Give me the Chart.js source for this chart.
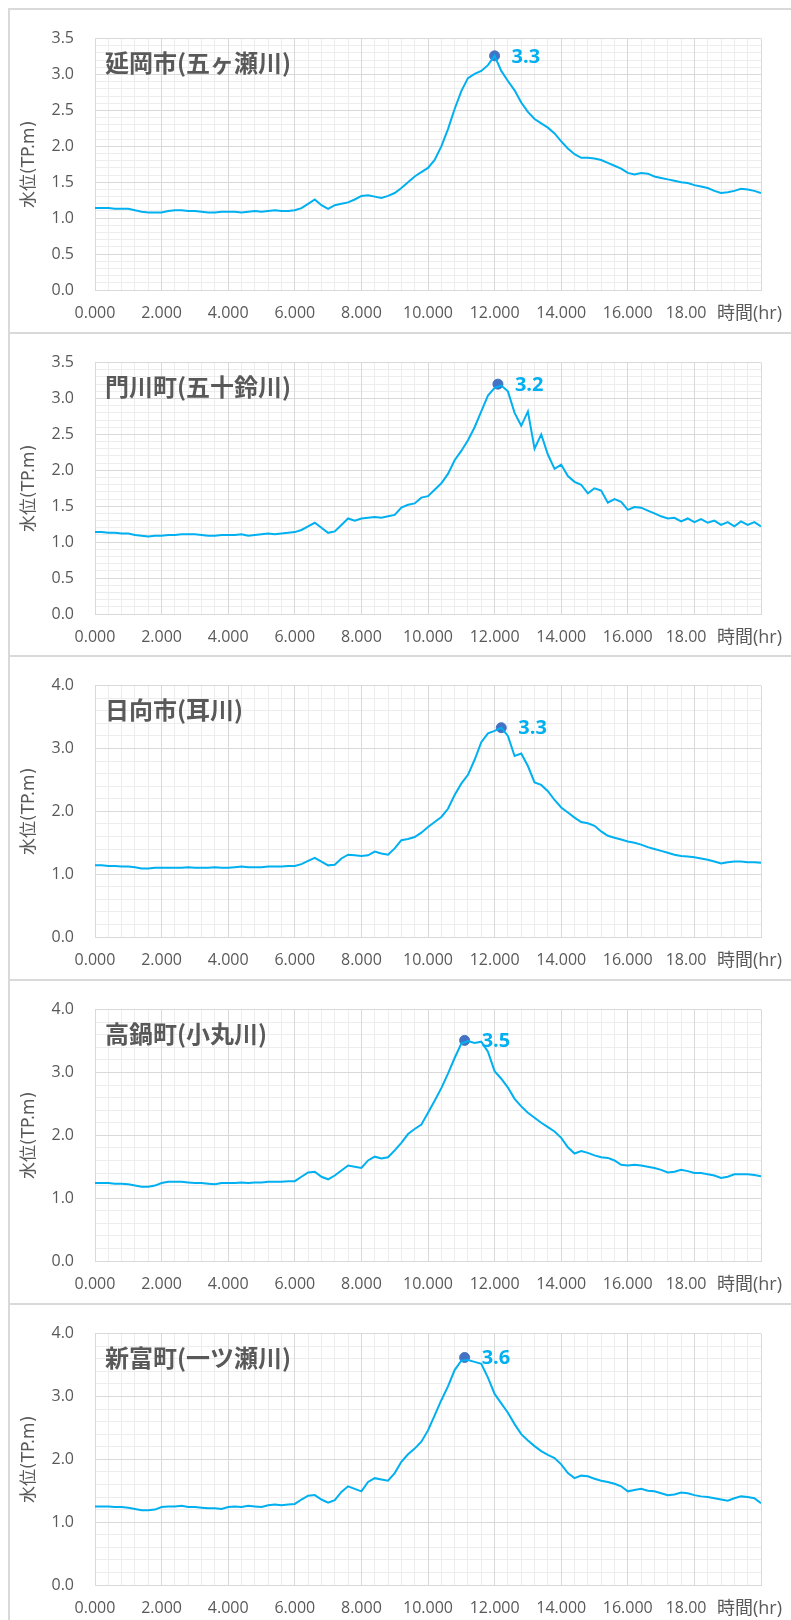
<!DOCTYPE html>
<html>
<head>
<meta charset="utf-8">
<script src="https://cdn.jsdelivr.net/npm/chart.js@4.4.1/dist/chart.umd.min.js"></script>
<style>
  body { margin: 0; background: #fff; width: 791px; height: 1620px; overflow: hidden; position: relative; }
  .panel { position: absolute; left: 8px; width: 800px; height: 324px; border-top: 2px solid #d9d9d9; border-left: 2px solid #d9d9d9; box-sizing: border-box; }
  canvas { position: absolute; left: 0; }
</style>
</head>
<body>
<script>
// time axis (hr)
const hours = [0,0.2,0.4,0.6,0.8,1,1.2,1.4,1.6,1.8,2,2.2,2.4,2.6,2.8,3,3.2,3.4,3.6,3.8,
  4,4.2,4.4,4.6,4.8,5,5.2,5.4,5.6,5.8,6,6.2,6.4,6.6,6.8,7,7.2,7.4,7.6,7.8,
  8,8.2,8.4,8.6,8.8,9,9.2,9.4,9.6,9.8,10,10.2,10.4,10.6,10.8,11,11.2,11.4,11.6,11.8,
  12,12.2,12.4,12.6,12.8,13,13.2,13.4,13.6,13.8,14,14.2,14.4,14.6,14.8,15,15.2,15.4,15.6,15.8,
  16,16.2,16.4,16.6,16.8,17,17.2,17.4,17.6,17.8,18,18.2,18.4,18.6,18.8,19,19.2,19.4,19.6,19.8,20];

// water level (TP.m)
const nobeoka = [1.14,1.14,1.14,1.13,1.13,1.13,1.11,1.09,1.08,1.08,
  1.08,1.10,1.11,1.11,1.10,1.10,1.09,1.08,1.08,1.09,
  1.09,1.09,1.08,1.09,1.10,1.09,1.10,1.11,1.10,1.10,
  1.11,1.14,1.20,1.26,1.18,1.13,1.18,1.20,1.22,1.26,
  1.31,1.32,1.30,1.28,1.31,1.35,1.42,1.50,1.58,1.64,
  1.70,1.81,2.00,2.24,2.52,2.77,2.95,3.01,3.05,3.13,
  3.26,3.05,2.91,2.78,2.61,2.48,2.38,2.32,2.26,2.18,
  2.07,1.97,1.89,1.84,1.84,1.83,1.81,1.77,1.73,1.69,
  1.63,1.61,1.63,1.62,1.58,1.56,1.54,1.52,1.50,1.49,
  1.46,1.44,1.42,1.38,1.35,1.36,1.38,1.41,1.40,1.38,1.35];

const kadogawa = [1.14,1.14,1.13,1.13,1.12,1.12,1.10,1.09,1.08,1.09,
  1.09,1.10,1.10,1.11,1.11,1.11,1.10,1.09,1.09,1.10,
  1.10,1.10,1.11,1.09,1.10,1.11,1.12,1.11,1.12,1.13,
  1.14,1.17,1.22,1.27,1.20,1.13,1.15,1.24,1.33,1.30,
  1.33,1.34,1.35,1.34,1.36,1.38,1.48,1.52,1.54,1.62,
  1.64,1.73,1.82,1.95,2.14,2.27,2.42,2.60,2.82,3.04,
  3.15,3.18,3.10,2.80,2.62,2.82,2.30,2.50,2.22,2.02,
  2.08,1.92,1.84,1.80,1.68,1.75,1.72,1.55,1.60,1.56,
  1.45,1.49,1.48,1.44,1.40,1.36,1.33,1.34,1.29,1.33,
  1.28,1.32,1.27,1.30,1.24,1.28,1.22,1.29,1.24,1.28,1.22];

const hyuga = [1.14,1.14,1.13,1.13,1.12,1.12,1.11,1.09,1.09,1.10,
  1.10,1.10,1.10,1.10,1.11,1.10,1.10,1.10,1.11,1.10,
  1.10,1.11,1.12,1.11,1.11,1.11,1.12,1.12,1.12,1.13,
  1.13,1.16,1.21,1.26,1.20,1.14,1.15,1.25,1.31,1.30,
  1.29,1.30,1.36,1.33,1.31,1.41,1.54,1.56,1.59,1.66,
  1.75,1.83,1.91,2.04,2.26,2.44,2.58,2.82,3.10,3.24,
  3.28,3.33,3.20,2.88,2.92,2.72,2.46,2.42,2.32,2.18,
  2.06,1.98,1.90,1.83,1.81,1.77,1.68,1.61,1.58,1.55,
  1.52,1.50,1.47,1.43,1.40,1.37,1.34,1.31,1.29,1.28,
  1.27,1.25,1.23,1.20,1.17,1.19,1.20,1.20,1.19,1.19,1.18];

const takanabe = [1.24,1.24,1.24,1.23,1.23,1.22,1.20,1.18,1.18,1.20,
  1.24,1.26,1.26,1.26,1.25,1.24,1.24,1.23,1.22,1.24,
  1.24,1.24,1.25,1.24,1.25,1.25,1.26,1.26,1.26,1.27,
  1.27,1.34,1.41,1.42,1.34,1.30,1.36,1.44,1.52,1.50,
  1.48,1.60,1.66,1.63,1.65,1.76,1.88,2.02,2.10,2.17,
  2.36,2.55,2.75,2.98,3.23,3.46,3.50,3.47,3.49,3.33,
  3.02,2.90,2.76,2.58,2.46,2.36,2.28,2.20,2.13,2.06,
  1.96,1.81,1.71,1.75,1.72,1.68,1.65,1.64,1.60,1.53,
  1.52,1.53,1.52,1.50,1.48,1.45,1.41,1.42,1.45,1.43,
  1.40,1.40,1.38,1.36,1.32,1.34,1.38,1.38,1.38,1.37,1.35];

const shintomi = [1.25,1.25,1.25,1.24,1.24,1.23,1.21,1.19,1.19,1.20,
  1.24,1.25,1.25,1.26,1.24,1.24,1.23,1.22,1.22,1.21,
  1.24,1.25,1.24,1.26,1.25,1.24,1.27,1.28,1.27,1.28,
  1.29,1.36,1.42,1.43,1.36,1.31,1.35,1.48,1.57,1.53,
  1.49,1.64,1.70,1.68,1.66,1.78,1.96,2.08,2.17,2.28,
  2.46,2.70,2.94,3.16,3.42,3.57,3.58,3.55,3.52,3.30,
  3.04,2.89,2.74,2.56,2.40,2.30,2.21,2.13,2.07,2.02,
  1.92,1.78,1.70,1.74,1.73,1.69,1.66,1.64,1.61,1.57,
  1.49,1.51,1.53,1.50,1.49,1.46,1.43,1.44,1.47,1.46,
  1.43,1.41,1.40,1.38,1.36,1.34,1.38,1.41,1.40,1.38,1.30];

const stations = ['延岡市(五ヶ瀬川)', '門川町(五十鈴川)', '日向市(耳川)', '高鍋町(小丸川)', '新富町(一ツ瀬川)'];
const levels = [nobeoka, kadogawa, hyuga, takanabe, shintomi];
const peakTimes = [12.0, 12.1, 12.2, 11.1, 11.1];
const peakLevels = [3.26, 3.20, 3.33, 3.51, 3.62];
const peakLabels = ['3.3', '3.2', '3.3', '3.5', '3.6'];
const yMaxes = [3.5, 3.5, 4, 4, 4];
const yMajorSteps = [0.5, 0.5, 1, 1, 1];
const yMinorSteps = [0.1, 0.1, 0.2, 0.2, 0.2];

const FONT = '"Open Sans", "Noto Sans CJK JP", sans-serif';
const TEXT = '#595959';
const LINE = '#00B0F0';

const panelDecor = {
  id: 'panelDecor',
  afterDraw(chart, args, opts) {
    const {ctx, chartArea} = chart;
    ctx.save();
    // station title inside the plot
    ctx.fillStyle = TEXT;
    ctx.font = 'bold 24px "Noto Sans CJK JP", sans-serif';
    ctx.textAlign = 'left';
    ctx.textBaseline = 'middle';
    ctx.fillText(opts.title, chartArea.left + 10, chartArea.top + 24);
    // x axis title at the right end
    ctx.font = '18px ' + FONT;
    ctx.fillText('時間(hr)', 717, chartArea.bottom + 24);
    // peak label
    const pt = chart.getDatasetMeta(1).data[0];
    ctx.fillStyle = LINE;
    ctx.font = 'bold 20px ' + FONT;
    ctx.fillText(opts.peak, pt.x + 17, pt.y + 1);
    ctx.restore();
  }
};

const near = (v, step) => Math.abs(v / step - Math.round(v / step)) < 1e-6;

levels.forEach((vals, i) => {
  const top = Math.round(8 + 323.7 * i);
  const panel = document.createElement('div');
  panel.className = 'panel';
  panel.style.top = top + 'px';
  document.body.appendChild(panel);

  const canvas = document.createElement('canvas');
  canvas.width = 791;
  canvas.height = 324;
  canvas.style.top = top + 'px';
  document.body.appendChild(canvas);

  new Chart(canvas, {
    type: 'line',
    data: {
      datasets: [{
        data: hours.map((h, k) => ({x: h, y: vals[k]})),
        borderColor: LINE,
        borderWidth: 2,
        pointRadius: 0,
        tension: 0
      }, {
        data: [{x: peakTimes[i], y: peakLevels[i]}],
        showLine: false,
        pointRadius: 5,
        pointBackgroundColor: '#4472C4',
        pointBorderColor: '#4472C4'
      }]
    },
    options: {
      responsive: false,
      animation: false,
      devicePixelRatio: 1,
      events: [],
      layout: {padding: {top: 23, right: 30, left: 0, bottom: 0}},
      plugins: {
        legend: {display: false},
        tooltip: {enabled: false},
        panelDecor: {title: stations[i], peak: peakLabels[i]}
      },
      scales: {
        xMinor: {
          type: 'linear', position: 'bottom', min: 0, max: 20,
          ticks: {display: false, stepSize: 0.4},
          grid: {color: '#ededed', drawTicks: false, z: -2},
          border: {display: false},
          afterFit: s => { s.height = 0; }
        },
        x: {
          type: 'linear', position: 'bottom', min: 0, max: 20,
          ticks: {
            stepSize: 2, autoSkip: false, maxRotation: 0, padding: 14,
            color: TEXT, font: {family: FONT, size: 16},
            // Excel cuts the last label short, so it sits a bit left
            callback: v => v === 20 ? '' : (v === 18 ? '18.00    ' : v.toFixed(3))
          },
          grid: {color: '#d9d9d9', drawTicks: false, z: -1},
          border: {color: '#d9d9d9'},
          afterFit: s => { s.height = 42; }
        },
        yMinor: {
          type: 'linear', position: 'left', min: 0, max: yMaxes[i],
          ticks: {display: false, stepSize: yMinorSteps[i]},
          grid: {color: '#ededed', drawTicks: false, z: -2},
          border: {display: false},
          afterFit: s => { s.width = 0; }
        },
        y: {
          type: 'linear', position: 'left', min: 0, max: yMaxes[i],
          ticks: {
            stepSize: yMajorSteps[i], padding: 21,
            color: TEXT, font: {family: FONT, size: 16},
            callback: v => near(v, yMajorSteps[i]) ? v.toFixed(1) : ''
          },
          grid: {color: '#d9d9d9', drawTicks: false, z: -1},
          border: {color: '#d9d9d9'},
          title: {
            display: true, text: '水位(TP.m)', color: TEXT,
            font: {family: '"DejaVu Sans", "Noto Sans CJK JP", sans-serif', size: 17},
            padding: {top: 19, bottom: 0}
          },
          afterFit: s => { s.width = 95; }
        }
      }
    },
    plugins: [panelDecor]
  });
});
</script>
</body>
</html>
